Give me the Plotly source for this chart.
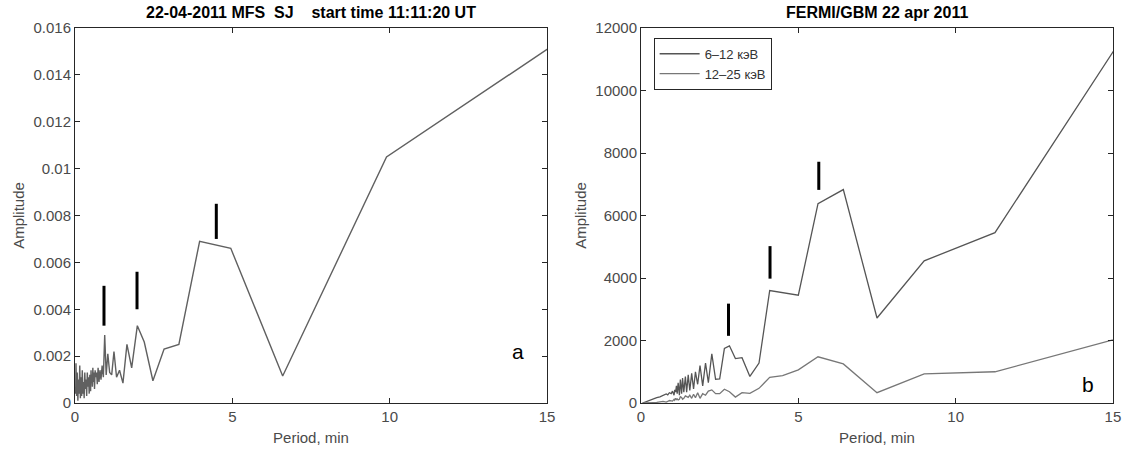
import plotly.graph_objs as go

# ---- panel a: MFS SJ spectrum ----
sj_period = [19.8, 9.9, 6.6, 4.95, 3.96, 3.3, 2.83, 2.475, 2.2, 1.98, 1.8, 1.65,
             1.523, 1.414, 1.32, 1.2375, 1.165, 1.1, 1.042, 0.99, 0.943,
             0.9, 0.861, 0.825, 0.792, 0.762, 0.733, 0.707, 0.683, 0.66, 0.639,
             0.619, 0.6, 0.582, 0.566, 0.55, 0.535, 0.521, 0.508, 0.495,
             0.47, 0.45, 0.43, 0.41, 0.39, 0.37, 0.35, 0.33, 0.31, 0.29, 0.27,
             0.25, 0.23, 0.21, 0.19, 0.17, 0.15, 0.13, 0.11, 0.09, 0.07, 0.05,
             0.03, 0.02]
sj_amp = [0.0194, 0.0105, 0.00115, 0.0066, 0.0069, 0.0025, 0.0023, 0.00095,
          0.0026, 0.0033, 0.0015, 0.0025, 0.00085, 0.0014, 0.0011, 0.0022,
          0.0012, 0.0013, 0.0021, 0.0012, 0.0029,
          0.0011, 0.0016, 0.0010, 0.0014, 0.0009, 0.0015, 0.0008, 0.0013,
          0.0011, 0.0014, 0.0006, 0.0013, 0.0009, 0.0015, 0.0007, 0.0012,
          0.0010, 0.0014, 0.0005,
          0.0012, 0.0004, 0.0011, 0.0007, 0.0013, 0.0003, 0.0010, 0.0006,
          0.0013, 0.0002, 0.0009, 0.0004, 0.0014, 0.0003, 0.0011, 0.0002,
          0.0016, 0.0004, 0.0010, 0.0001, 0.0013, 0.0003, 0.0017, 0.0004]

sj_mark_x = [0.92, 1.97, 4.49]
sj_mark_lo = [0.0033, 0.0040, 0.0070]
sj_mark_hi = [0.0050, 0.0056, 0.0085]

sj_yticks = [0, 0.002, 0.004, 0.006, 0.008, 0.01, 0.012, 0.014, 0.016]
sj_yticklabels = ["0", "0.002", "0.004", "0.006", "0.008", "0.01", "0.012", "0.014", "0.016"]

# ---- panel b: FERMI/GBM ----
gbm_period = [22.5, 15.0, 11.25, 9.0, 7.5, 6.43, 5.625, 5.0, 4.5, 4.09, 3.75,
              3.46, 3.21, 3.0, 2.81, 2.65, 2.5, 2.37, 2.25, 2.14, 2.05, 1.96,
              1.875, 1.8, 1.73, 1.67, 1.61, 1.55, 1.5, 1.45, 1.41, 1.36, 1.32,
              1.29, 1.25, 1.22, 1.18, 1.15, 1.125, 1.1, 1.07, 1.05, 1.0, 0.96,
              0.9, 0.85, 0.8, 0.7, 0.6, 0.5, 0.4, 0.3, 0.2, 0.1, 0.05]
gbm_low = [22800, 11250, 5450, 4550, 2720, 6830, 6380, 3450, 3540, 3600, 1280,
           850, 1450, 1420, 1830, 1750, 770, 760, 1570, 650, 1280, 550,
           1200, 600, 1000, 450, 950, 400, 900, 350, 850, 350, 800,
           300, 750, 250, 650, 300, 550, 350, 420, 250, 380, 300,
           330, 260, 290, 240, 200, 170, 130, 100, 60, 30, 0]
gbm_high = [4600, 2020, 1000, 930, 330, 1250, 1480, 1060, 880, 820, 470,
            310, 330, 190, 360, 440, 300, 300, 420, 380, 250, 300,
            150, 330, 170, 280, 150, 250, 180, 200, 230, 150, 120,
            180, 200, 120, 100, 130, 110, 150, 90, 120, 60, 70,
            80, 50, 30, 50, 30, 20, 15, 10, 5, 2, 0]

gbm_mark_x = [2.78, 4.10, 5.65]
gbm_mark_lo = [2150, 3980, 6820]
gbm_mark_hi = [3180, 5020, 7720]

gbm_yticks = [0, 2000, 4000, 6000, 8000, 10000, 12000]
gbm_yticklabels = ["0", "2000", "4000", "6000", "8000", "10000", "12000"]

x_ticks = [0, 5, 10, 15]


def segs(xs, lo, hi):
    sx, sy = [], []
    for x, a, b in zip(xs, lo, hi):
        sx += [x, x, None]
        sy += [a, b, None]
    return sx, sy


FONT = "Liberation Sans, Arial, sans-serif"
GRAY = "#4a4a4a"

traces = []
traces.append(go.Scatter(x=sj_period, y=sj_amp, mode="lines", xaxis="x", yaxis="y",
                         line=dict(color="#606060", width=1.4), showlegend=False))
mx, my = segs(sj_mark_x, sj_mark_lo, sj_mark_hi)
traces.append(go.Scatter(x=mx, y=my, mode="lines", xaxis="x", yaxis="y",
                         line=dict(color="black", width=3), showlegend=False))

traces.append(go.Scatter(x=gbm_period, y=gbm_low, mode="lines", xaxis="x2", yaxis="y2",
                         name="6\u201312 \u043a\u044d\u0412",
                         line=dict(color="#555555", width=1.3)))
traces.append(go.Scatter(x=gbm_period, y=gbm_high, mode="lines", xaxis="x2", yaxis="y2",
                         name="12\u201325 \u043a\u044d\u0412",
                         line=dict(color="#777777", width=1.3)))
mx, my = segs(gbm_mark_x, gbm_mark_lo, gbm_mark_hi)
traces.append(go.Scatter(x=mx, y=my, mode="lines", xaxis="x2", yaxis="y2",
                         line=dict(color="black", width=3), showlegend=False))

axis_common = dict(showgrid=False, zeroline=False, showline=True, linecolor="#262626",
                   linewidth=1, mirror="ticks", ticks="inside", ticklen=5,
                   tickcolor="#262626", automargin=False,
                   tickfont=dict(family=FONT, size=15, color=GRAY))
title_font = dict(family=FONT, size=15, color=GRAY)

layout = go.Layout(
    width=1125, height=450,
    margin=dict(l=0, r=0, t=0, b=0),
    paper_bgcolor="white", plot_bgcolor="white",
    font=dict(family=FONT, color=GRAY),
    xaxis=dict(axis_common, domain=[0.0667, 0.4862], range=[0, 15],
               tickvals=x_ticks, anchor="y",
               title=dict(text="Period, min", font=title_font, standoff=8)),
    yaxis=dict(axis_common, domain=[0.1044, 0.9378], range=[0, 0.016],
               tickvals=sj_yticks, ticktext=sj_yticklabels, anchor="x",
               title=dict(text="Amplitude", font=title_font, standoff=5)),
    xaxis2=dict(axis_common, domain=[0.5698, 0.9893], range=[0, 15],
                tickvals=x_ticks, anchor="y2",
                title=dict(text="Period, min", font=title_font, standoff=8)),
    yaxis2=dict(axis_common, domain=[0.1044, 0.9378], range=[0, 12000],
                tickvals=gbm_yticks, ticktext=gbm_yticklabels, anchor="x2",
                title=dict(text="Amplitude", font=title_font, standoff=5)),
    legend=dict(x=0.581, y=0.916, xanchor="left", yanchor="top",
                bordercolor="#262626", borderwidth=1, bgcolor="white",
                font=dict(family=FONT, size=13, color="#333333"),
                tracegroupgap=0, itemwidth=40),
    annotations=[
        dict(text="<b>22-04-2011 MFS  SJ    start time 11:11:20 UT</b>", xref="paper", yref="paper",
             x=0.2765, y=0.973, xanchor="center", yanchor="middle", showarrow=False,
             font=dict(family=FONT, size=16, color="black")),
        dict(text="<b>FERMI/GBM 22 apr 2011</b>", xref="paper", yref="paper",
             x=0.7795, y=0.973, xanchor="center", yanchor="middle", showarrow=False,
             font=dict(family=FONT, size=16, color="black")),
        dict(text="a", xref="x", yref="y", x=14.07, y=0.00218, showarrow=False,
             font=dict(family=FONT, size=21, color="black")),
        dict(text="b", xref="x2", yref="y2", x=14.2, y=580, showarrow=False,
             font=dict(family=FONT, size=21, color="black")),
    ],
)

fig = go.Figure(data=traces, layout=layout)
# page body has an 8px default margin; drop it so the figure sits at the corner
fig.write_html("out.html", config={"displayModeBar": False},
               post_script="document.body.style.margin='0';")
